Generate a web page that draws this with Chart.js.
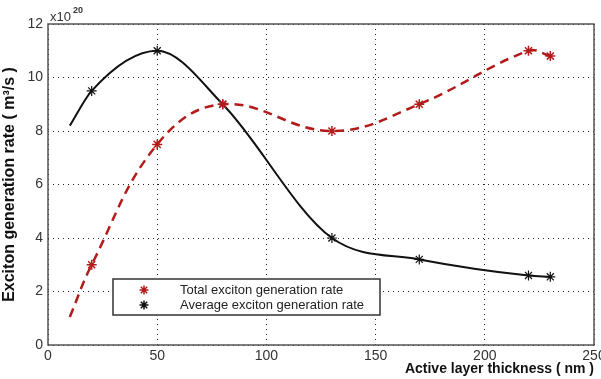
<!DOCTYPE html>
<html>
<head>
<meta charset="utf-8">
<script src="https://cdn.jsdelivr.net/npm/chart.js@4/dist/chart.umd.min.js"></script>
<style>
  html, body { margin: 0; padding: 0; background: #fff; }
  #wrap { width: 601px; height: 379px; }
</style>
</head>
<body>
<div id="wrap"><canvas id="excitonChart" width="601" height="379"></canvas></div>
<script>
// data (y in units of 10^20 m^3/s)
const thickness = [10, 20, 50, 80, 130, 170, 220, 230];
const totalRate = [1.05, 3.0, 7.5, 9.0, 8.0, 9.0, 11.0, 10.8];
const averageRate = [8.2, 9.5, 11.0, 9.0, 4.0, 3.2, 2.6, 2.55];
const xTicks = [0, 50, 100, 150, 200, 250];
const yTicks = [0, 2, 4, 6, 8, 10, 12];
const seriesNames = ['Total exciton generation rate', 'Average exciton generation rate'];

const RED = '#b31b1b';
const FONT = '"Liberation Sans", Arial, sans-serif';

function toPoints(ys) {
    return thickness.map((x, i) => ({ x: x, y: ys[i] }));
}

// first sample has no marker in the original
const markerSizes = thickness.map((x, i) => i === 0 ? 0 : 5);

// box, exponent label and legend drawn by hand (matlab style)
const extras = {
    id: 'extras',
    afterDraw(chart) {
        const c = chart.ctx;
        const a = chart.chartArea;
        c.save();
        c.strokeStyle = '#555';
        c.lineWidth = 1.5;
        c.strokeRect(a.left, a.top, a.right - a.left, a.bottom - a.top);

        // x10^20
        c.fillStyle = '#333';
        c.font = '13px ' + FONT;
        c.textBaseline = 'alphabetic';
        c.fillText('x10', 50, 21);
        c.font = 'bold 9px ' + FONT;
        c.fillText('20', 73, 13);

        // legend
        const lx = 113, ly = 279, lw = 267, lh = 36;
        c.fillStyle = '#fff';
        c.fillRect(lx, ly, lw, lh);
        c.strokeStyle = '#333';
        c.lineWidth = 1.5;
        c.strokeRect(lx, ly, lw, lh);
        const colors = [RED, '#111'];
        seriesNames.forEach((name, i) => {
            const yy = ly + 11 + i * 15;
            c.strokeStyle = colors[i];
            c.lineWidth = 1.5;
            Chart.helpers.drawPoint(c, { pointStyle: 'star', radius: 4.5, rotation: 0, borderWidth: 1.5 }, 144, yy);
            c.fillStyle = '#222';
            c.font = '13px ' + FONT;
            c.textBaseline = 'middle';
            c.fillText(name, 180, yy);
        });
        c.restore();
    }
};

const ctx = document.getElementById('excitonChart');

new Chart(ctx, {
    type: 'line',
    data: {
        datasets: [{
            label: seriesNames[0],
            data: toPoints(totalRate),
            borderColor: RED,
            backgroundColor: RED,
            borderWidth: 2.5,
            borderDash: [9, 6],
            tension: 0.4,
            pointStyle: 'star',
            pointRadius: markerSizes,
            pointBorderColor: RED,
            pointBorderWidth: 1.5,
            fill: false
        }, {
            label: seriesNames[1],
            data: toPoints(averageRate),
            borderColor: '#111',
            backgroundColor: '#111',
            borderWidth: 2,
            cubicInterpolationMode: 'monotone',
            pointStyle: 'star',
            pointRadius: markerSizes,
            pointBorderColor: '#111',
            pointBorderWidth: 1.2,
            fill: false
        }]
    },
    options: {
        responsive: false,
        animation: false,
        layout: { padding: { top: 24, right: 7, left: 0, bottom: 0 } },
        plugins: {
            legend: { display: false },
            tooltip: { enabled: false }
        },
        scales: {
            x: {
                type: 'linear',
                min: 0,
                max: 250,
                afterBuildTicks: axis => { axis.ticks = xTicks.map(v => ({ value: v })); },
                afterFit: axis => { axis.height = 34; axis.paddingRight = 0; },
                grid: {
                    color: '#222',
                    lineWidth: 1,
                    drawTicks: false
                },
                border: { display: false, dash: [1, 4] },
                ticks: {
                    color: '#333',
                    font: { family: FONT, size: 14 },
                    padding: 3,
                    maxRotation: 0
                },
                title: {
                    display: true,
                    text: 'Active layer thickness ( nm )',
                    align: 'end',
                    color: '#111',
                    font: { family: FONT, size: 14, weight: 'bold' },
                    padding: { top: 0, bottom: 1 }
                }
            },
            y: {
                min: 0,
                max: 12,
                afterBuildTicks: axis => { axis.ticks = yTicks.map(v => ({ value: v })); },
                afterFit: axis => { axis.width = 48; },
                grid: {
                    color: '#222',
                    lineWidth: 1,
                    drawTicks: false
                },
                border: { display: false, dash: [1, 4] },
                ticks: {
                    color: '#333',
                    font: { family: FONT, size: 14 },
                    padding: 5
                },
                title: {
                    display: true,
                    text: 'Exciton generation rate ( m³/s )',
                    color: '#111',
                    font: { family: FONT, size: 16, weight: 'bold' },
                    padding: { top: 0, bottom: 0 }
                }
            }
        }
    },
    plugins: [extras]
});
</script>
</body>
</html>
